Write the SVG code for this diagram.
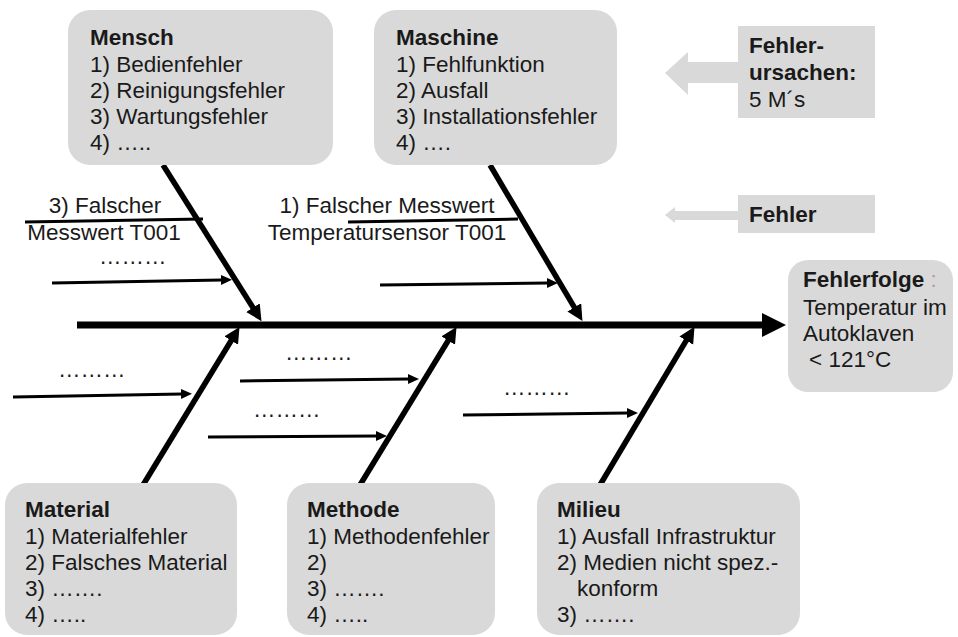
<svg xmlns="http://www.w3.org/2000/svg" width="958" height="637" viewBox="0 0 958 637">
  <style>
    text { font-family: "Liberation Sans", Arial, sans-serif; font-size: 22.5px; fill: #1a1a1a; }
    .b { font-weight: bold; }
    .box { fill: #d9d9d9; }
    .bone { stroke: #000; stroke-width: 5.5; fill: none; marker-end: url(#bigHead); }
    .sub { stroke: #000; stroke-width: 3; fill: none; marker-end: url(#smallHead); }
    .plain { stroke: #000; stroke-width: 3; fill: none; }
    .legend { fill: #d9d9d9; }
  </style>
  <defs>
    <marker id="bigHead" markerUnits="userSpaceOnUse" markerWidth="18" markerHeight="18" refX="1" refY="8" orient="auto">
      <path d="M0,0 L16,8 L0,16 z" fill="#000"/>
    </marker>
    <marker id="smallHead" markerUnits="userSpaceOnUse" markerWidth="12" markerHeight="12" refX="1" refY="5" orient="auto">
      <path d="M0,0 L11,5 L0,10 z" fill="#000"/>
    </marker>
  </defs>
  <rect width="958" height="637" fill="#fff"/>

  <!-- connectors: spine, main bones, sub-causes -->
  <g id="connectors">
    <line x1="77" y1="325" x2="763" y2="325" stroke="#000" stroke-width="7"/>
    <polygon points="762,313 786,325 762,337" fill="#000"/>
    <line class="bone" x1="163" y1="165" x2="253.5" y2="308.5"/>
    <line class="bone" x1="490" y1="165" x2="574.8" y2="308.2"/>
    <line class="bone" x1="143" y1="485" x2="231.7" y2="339.7"/>
    <line class="bone" x1="360" y1="485" x2="448.7" y2="339.7"/>
    <line class="bone" x1="600" y1="485" x2="686.8" y2="339.7"/>
    <line class="plain" x1="25" y1="222" x2="203" y2="219"/>
    <line class="plain" x1="348" y1="222" x2="518" y2="219"/>
    <line class="sub" x1="52" y1="283" x2="222" y2="280"/>
    <line class="sub" x1="380" y1="285" x2="548" y2="283"/>
    <line class="sub" x1="13" y1="397" x2="182" y2="394"/>
    <line class="sub" x1="240" y1="381" x2="409" y2="379"/>
    <line class="sub" x1="208" y1="437" x2="377" y2="436"/>
    <line class="sub" x1="463" y1="415" x2="628" y2="413"/>
  </g>

  <!-- sub-cause labels -->
  <g id="sub-labels">
    <text x="105" y="213" text-anchor="middle">3) Falscher</text>
    <text x="104" y="240" text-anchor="middle">Messwert T001</text>
    <text x="387" y="213" text-anchor="middle">1) Falscher Messwert</text>
    <text x="387" y="240" text-anchor="middle">Temperatursensor T001</text>
    <text x="99" y="264">………</text>
    <text x="58" y="377">………</text>
    <text x="285" y="360">………</text>
    <text x="253" y="417">………</text>
    <text x="503" y="395">………</text>
  </g>

  <g id="mensch">
    <rect class="box" x="68" y="10" width="265" height="155" rx="22"/>
    <text class="b" x="90" y="45">Mensch</text>
    <text x="90" y="72">1) Bedienfehler</text>
    <text x="90" y="98">2) Reinigungsfehler</text>
    <text x="90" y="124">3) Wartungsfehler</text>
    <text x="90" y="150">4) …..</text>
  </g>

  <g id="maschine">
    <rect class="box" x="374" y="10" width="243" height="155" rx="22"/>
    <text class="b" x="396" y="45">Maschine</text>
    <text x="396" y="72">1) Fehlfunktion</text>
    <text x="396" y="98">2) Ausfall</text>
    <text x="396" y="124">3) Installationsfehler</text>
    <text x="396" y="150">4) ….</text>
  </g>

  <g id="material">
    <rect class="box" x="5" y="483" width="232" height="152" rx="22"/>
    <text class="b" x="25" y="517">Material</text>
    <text x="25" y="544">1) Materialfehler</text>
    <text x="25" y="570">2) Falsches Material</text>
    <text x="25" y="596">3) …….</text>
    <text x="25" y="622">4) …..</text>
  </g>

  <g id="methode">
    <rect class="box" x="287" y="483" width="208" height="152" rx="22"/>
    <text class="b" x="307" y="517">Methode</text>
    <text x="307" y="544">1) Methodenfehler</text>
    <text x="307" y="570">2)</text>
    <text x="307" y="596">3) …….</text>
    <text x="307" y="622">4) …..</text>
  </g>

  <g id="milieu">
    <rect class="box" x="537" y="483" width="263" height="152" rx="22"/>
    <text class="b" x="557" y="517">Milieu</text>
    <text x="557" y="544">1) Ausfall Infrastruktur</text>
    <text x="557" y="570">2) Medien nicht spez.-</text>
    <text x="577" y="596">konform</text>
    <text x="557" y="622">3) …….</text>
  </g>

  <g id="fehlerfolge">
    <rect class="box" x="788" y="260" width="165" height="132" rx="20"/>
    <text x="803" y="287"><tspan class="b">Fehlerfolge</tspan><tspan fill="#c09a9a"> :</tspan></text>
    <text x="803" y="315">Temperatur im</text>
    <text x="803" y="341">Autoklaven</text>
    <text x="809" y="367">&lt; 121°C</text>
  </g>

  <g id="legend-ursachen">
    <polygon class="legend" points="665,73 688,52 688,62 738,62 738,83 688,83 688,95"/>
    <rect class="box" x="738" y="26" width="137" height="92"/>
    <text class="b" x="749" y="53">Fehler-</text>
    <text class="b" x="749" y="80">ursachen:</text>
    <text x="749" y="107">5 M´s</text>
  </g>

  <g id="legend-fehler">
    <polygon class="legend" points="665,215 675,207 675,211 738,211 738,220 675,220 675,223"/>
    <rect class="box" x="738" y="195" width="137" height="38"/>
    <text class="b" x="749" y="222">Fehler</text>
  </g>
</svg>
